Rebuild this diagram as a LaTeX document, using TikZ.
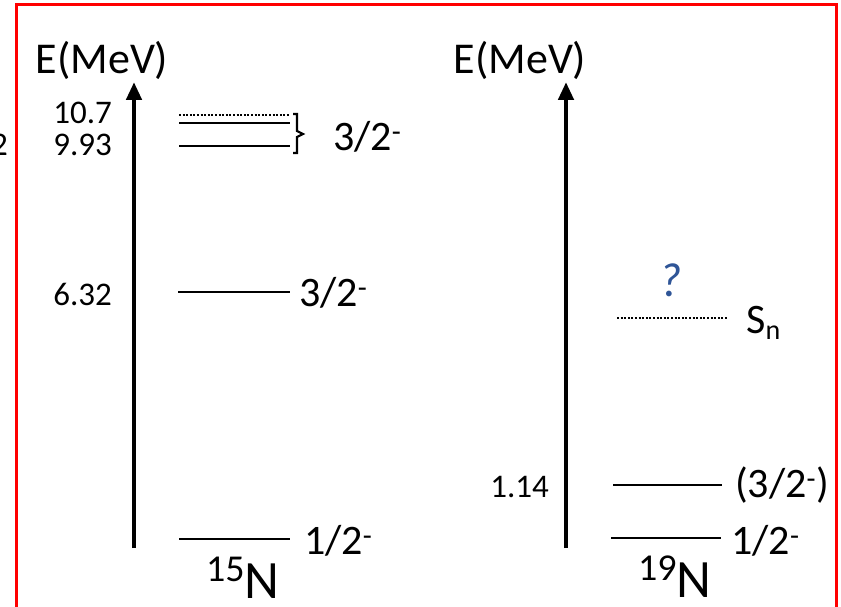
\documentclass[tikz,border=0pt]{standalone}
\usepackage{fontspec}
\setmainfont{Carlito}
\usetikzlibrary{arrows.meta}
\definecolor{qblue}{RGB}{47,85,151}
\tikzset{
  level/.style={line width=2.6pt},
  dlevel/.style={line width=2.2pt, dash pattern=on 2pt off 1.6pt},
  eaxis/.style={line width=4.8pt, -{Triangle[length=18pt,width=15pt]}},
  num/.style={font=\fontsize{33}{36}\selectfont, inner sep=0pt, anchor=east},
  spin/.style={font=\fontsize{42}{46}\selectfont, inner sep=0pt, anchor=west},
  etitle/.style={font=\fontsize{44}{48}\selectfont, inner sep=0pt},
  nuc/.style={inner sep=0pt, anchor=base west},
}
\newcommand{\nucl}[1]{\raisebox{17pt}{\fontsize{38}{40}\selectfont #1}{\fontsize{54}{58}\selectfont N}}
\begin{document}
\begin{tikzpicture}[x=1pt,y=-1pt]
\useasboundingbox (0,0) rectangle (841,607);
\draw[red, line width=3pt] (16,640) -- (16,5) -- (836,5) -- (836,640);
% left
\node[num] (two) at (8,145) {2};
\node[etitle] (e1) at (102,60) {E(MeV)};
\coordinate (a1b) at (134,548);
\coordinate (a1t) at (134,82);
\draw[eaxis] (a1b) -- (a1t);
\node[num] (n107) at (112,113) {10.7};
\node[num] (n993) at (112,145) {9.93};
\node[num] (n632) at (112,294) {6.32};
\coordinate (l1a) at (179,115); \coordinate (l1b) at (289,115);
\coordinate (l2a) at (179,123); \coordinate (l2b) at (290,123);
\coordinate (l3a) at (179,146); \coordinate (l3b) at (290,146);
\coordinate (l4a) at (178,292); \coordinate (l4b) at (290,292);
\coordinate (l5a) at (179,539); \coordinate (l5b) at (290,539);
\draw[dlevel] (l1a) -- (l1b);
\draw[level] (l2a) -- (l2b);
\draw[level] (l3a) -- (l3b);
\draw[level] (l4a) -- (l4b);
\draw[level] (l5a) -- (l5b);
\draw[line width=2.2pt] (293,114) -- (297,114) -- (297,131) -- (303,134) -- (297,137) -- (297,153) -- (293,153);
\node[spin] (s1) at (333,137) {3/2\textsuperscript{-}};
\node[spin] (s2) at (299,293) {3/2\textsuperscript{-}};
\node[spin] (s3) at (304,541) {1/2\textsuperscript{-}};
\node[nuc] (n15) at (206,598) {\nucl{15}};
% right
\node[etitle] (e2) at (520,60) {E(MeV)};
\coordinate (a2b) at (566,548);
\coordinate (a2t) at (566,82);
\draw[eaxis] (a2b) -- (a2t);
\node[num] (n114) at (549,487) {1.14};
\coordinate (r1a) at (617,318); \coordinate (r1b) at (727,318);
\coordinate (r2a) at (613,485); \coordinate (r2b) at (722,485);
\coordinate (r3a) at (611,538); \coordinate (r3b) at (721,538);
\draw[dlevel] (r1a) -- (r1b);
\draw[level] (r2a) -- (r2b);
\draw[level] (r3a) -- (r3b);
\node[spin, anchor=base west] (sn) at (746,333) {S\raisebox{-6pt}{\fontsize{28}{30}\selectfont n}};
\node[spin, text=qblue, font=\fontsize{48}{52}\selectfont\itshape, anchor=center] (q) at (671,280) {?};
\node[spin] (s4) at (735,485) {(3/2\textsuperscript{-})};
\node[spin] (s5) at (731,541) {1/2\textsuperscript{-}};
\node[nuc] (n19) at (638,597) {\nucl{19}};
\end{tikzpicture}
\end{document}
